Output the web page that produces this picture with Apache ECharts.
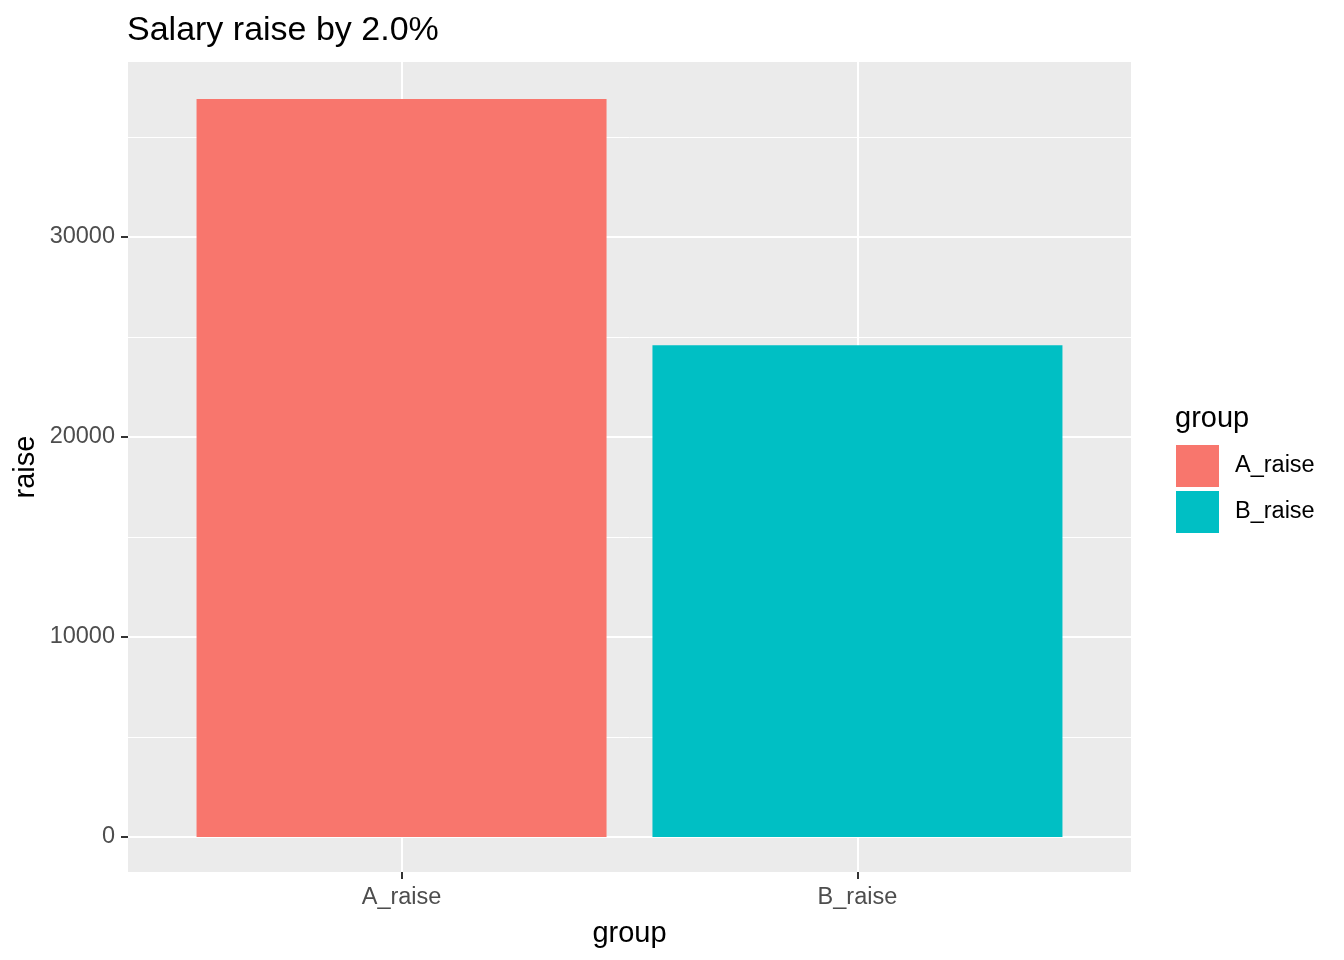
<!doctype html>
<html>
<head>
	<meta charset="UTF-8">
	<title>Salary raise</title>
	<style>
		html, body {
			margin: 0;
			padding: 0;
			background: #fff;
		}
		#chart {
			width: 1344px;
			height: 960px;
		}
	</style>
</head>
<body>
<div id="chart"></div>
<script src="https://cdn.jsdelivr.net/npm/echarts@6/dist/echarts.min.js"></script>
<script>
	// data
	var categories = ['A_raise', 'B_raise'];
	var raiseValues = [36900, 24590];
	var barColors = ['#F8766D', '#00BFC4'];
	var majorTicks = [0, 10000, 20000, 30000];
	var minorTicks = [5000, 15000, 25000, 35000];

	var font = 'Liberation Sans, Arial, sans-serif';

	// one series per group so the legend gets both entries
	var series = categories.map(function (name, i) {
		return {
			name: name,
			type: 'bar',
			barWidth: 410,
			barGap: '-100%',
			itemStyle: {color: barColors[i]},
			data: [[i + 1, raiseValues[i]]]
		};
	});

	var option = {
		animation: false,
		color: barColors,
		title: [{
			text: 'Salary raise by 2.0%',
			left: 122,
			top: 9,
			textStyle: {fontFamily: font, fontSize: 34, fontWeight: 'normal', color: '#000'}
		}, {
			text: 'group',
			left: 1170,
			top: 399,
			textStyle: {fontFamily: font, fontSize: 29, fontWeight: 'normal', color: '#000'}
		}],
		legend: {
			orient: 'vertical',
			left: 1176,
			top: 445,
			padding: 0,
			itemWidth: 43,
			itemHeight: 42,
			itemGap: 4,
			icon: 'rect',
			data: categories,
			textStyle: {fontFamily: font, fontSize: 23.5, color: '#000', padding: [8, 0, 0, 11]}
		},
		grid: {
			left: 128,
			right: 213,
			top: 62,
			bottom: 88,
			show: true,
			backgroundColor: '#EBEBEB',
			borderWidth: 0
		},
		xAxis: {
			type: 'value',
			min: 0.4,
			max: 2.6,
			name: 'group',
			nameLocation: 'middle',
			nameGap: 47,
			nameTextStyle: {fontFamily: font, fontSize: 29, color: '#000'},
			axisLine: {show: false, onZero: false},
			axisTick: {show: true, length: 7, customValues: [1, 2], lineStyle: {color: '#333', width: 2}},
			axisLabel: {
				customValues: [1, 2],
				margin: 14,
				fontFamily: font,
				fontSize: 23.5,
				color: '#4D4D4D',
				formatter: function (v) {
					return categories[Math.round(v) - 1];
				}
			},
			splitLine: {show: true, lineStyle: {color: '#fff', width: 2}}
		},
		yAxis: [{
			type: 'value',
			min: -1750,
			max: 38750,
			name: 'raise',
			nameLocation: 'middle',
			nameGap: 88,
			nameMoveOverlap: false,
			nameTextStyle: {fontFamily: font, fontSize: 29, color: '#000'},
			axisLine: {show: false, onZero: false},
			axisTick: {show: true, length: 7, customValues: majorTicks, lineStyle: {color: '#333', width: 2}},
			axisLabel: {
				customValues: majorTicks,
				margin: 13,
				fontFamily: font,
				fontSize: 23.5,
				color: '#4D4D4D',
				formatter: function (v) {
					return String(v);
				}
			},
			splitLine: {show: true, lineStyle: {color: '#fff', width: 2}}
		}, {
			// minor grid lines only
			type: 'value',
			min: -1750,
			max: 38750,
			position: 'left',
			axisLine: {show: false, onZero: false},
			axisTick: {show: false, customValues: minorTicks},
			axisLabel: {show: false, customValues: minorTicks},
			splitLine: {show: true, lineStyle: {color: '#fff', width: 1}}
		}],
		series: series
	};

	var chart = echarts.init(document.getElementById('chart'));
	chart.setOption(option);
</script>
</body>
</html>
